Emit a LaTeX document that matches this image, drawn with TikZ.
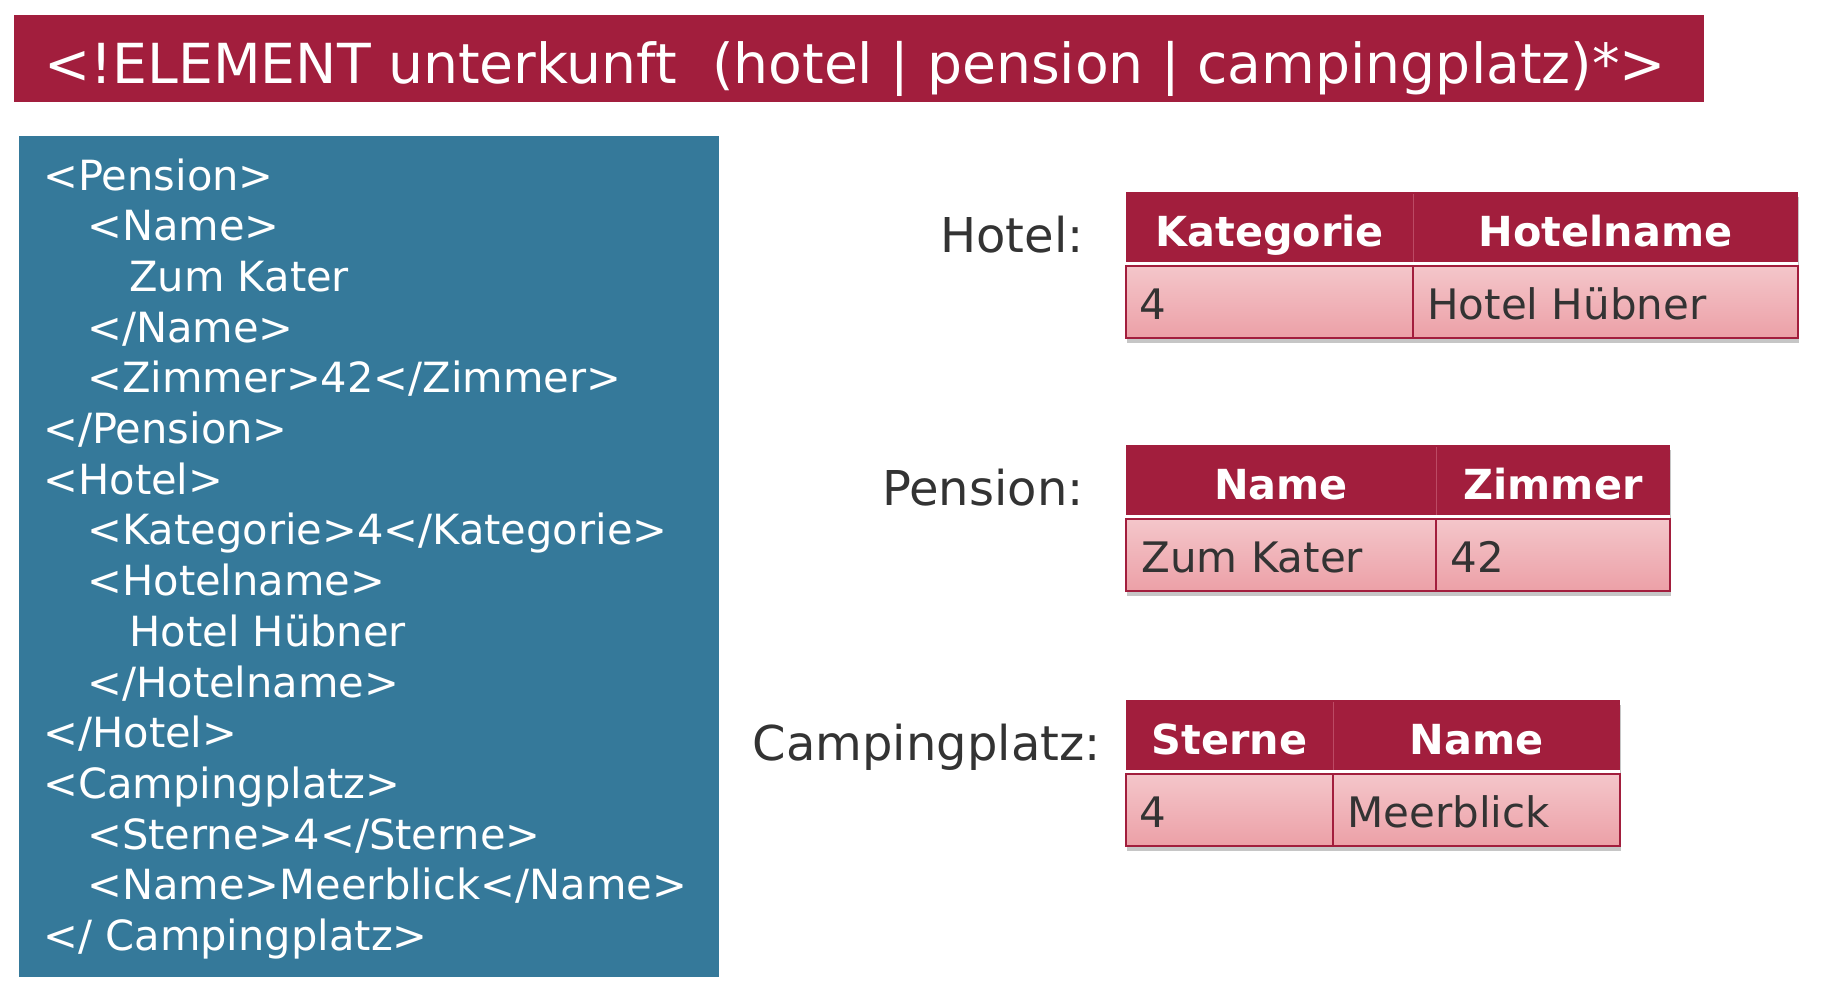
\documentclass[tikz,border=0pt]{standalone}
\usepackage{fontspec}
\setmainfont{DejaVu Sans}
\usetikzlibrary{shadows}
\definecolor{crim}{HTML}{A21E3D}
\definecolor{xmlblue}{HTML}{35799A}
\definecolor{pinkT}{HTML}{F4C6CA}
\definecolor{pinkB}{HTML}{ECA0A7}
\definecolor{hdrdiv}{HTML}{BC4A64}
\definecolor{txtgray}{HTML}{333333}
\tikzset{
  titletxt/.style={anchor=base west, inner sep=0, text=white, font=\fontsize{27.6}{32}\selectfont},
  codeline/.style={anchor=base west, inner sep=0, text=white, font=\fontsize{20.8}{25}\selectfont},
  lbl/.style={anchor=base east, inner sep=0, text=txtgray, font=\fontsize{24}{28}\selectfont},
  hdrtxt/.style={anchor=base, inner sep=0, text=white, font=\fontsize{20.7}{25}\selectfont\bfseries},
  celltxt/.style={anchor=base west, inner sep=0, text=txtgray, font=\fontsize{21}{25}\selectfont},
  tshadow/.style={fill=white, drop shadow={opacity=0.45, shadow xshift=0.6pt, shadow yshift=-2.4pt}},
  tborder/.style={draw=crim, line width=1pt},
  hdrfill/.style={fill=crim},
  bodyfill/.style={top color=pinkT, bottom color=pinkB},
}
\begin{document}
\begin{tikzpicture}[x=0.5pt,y=-0.5pt]
\useasboundingbox (0,0) rectangle (1822,998);
% title bar
\fill[crim] (14,15) rectangle (1704,102);
\node[titletxt] (title) at (44,83) {<!ELEMENT unterkunft\ \ (hotel | pension | campingplatz)*>};
% xml box
\fill[xmlblue] (19,136) rectangle (719,977);
\node[codeline] (c1)  at (43,190) {<Pension>};
\node[codeline] (c2)  at (87,240.7) {<Name>};
\node[codeline] (c3)  at (129,291.4) {Zum Kater};
\node[codeline] (c4)  at (87,342.1) {</Name>};
\node[codeline] (c5)  at (87,392.8) {<Zimmer>42</Zimmer>};
\node[codeline] (c6)  at (43,443.5) {</Pension>};
\node[codeline] (c7)  at (43,494.2) {<Hotel>};
\node[codeline] (c8)  at (87,544.9) {<Kategorie>4</Kategorie>};
\node[codeline] (c9)  at (87,595.6) {<Hotelname>};
\node[codeline] (c10) at (129,646.3) {Hotel Hübner};
\node[codeline] (c11) at (87,697) {</Hotelname>};
\node[codeline] (c12) at (43,747.7) {</Hotel>};
\node[codeline] (c13) at (43,798.4) {<Campingplatz>};
\node[codeline] (c14) at (87,849.1) {<Sterne>4</Sterne>};
\node[codeline] (c15) at (87,899.8) {<Name>Meerblick</Name>};
\node[codeline] (c16) at (43,950.5) {</ Campingplatz>};
% labels
\node[lbl] (lh) at (1084,252) {Hotel:};
\node[lbl] (lp) at (1084,505) {Pension:};
\node[lbl] (lc) at (1101,760) {Campingplatz:};
% Hotel table
\path[tshadow] (1126,192) rectangle (1798,338);
\fill[hdrfill] (1126,192) rectangle (1798,262);
\shade[bodyfill] (1126,266) rectangle (1798,338);
\draw[tborder] (1126,266) rectangle (1798,338);
\draw[tborder] (1413,266) -- (1413,338);
\draw[hdrdiv, line width=0.5pt] (1413,194) -- (1413,262);
\node[hdrtxt] (hk) at (1269.5,246) {Kategorie};
\node[hdrtxt] (hn) at (1605.5,246) {Hotelname};
\node[celltxt] (hv1) at (1139,319) {4};
\node[celltxt] (hv2) at (1427,319) {Hotel Hübner};
% Pension table
\path[tshadow] (1126,445) rectangle (1670,591);
\fill[hdrfill] (1126,445) rectangle (1670,515);
\shade[bodyfill] (1126,519) rectangle (1670,591);
\draw[tborder] (1126,519) rectangle (1670,591);
\draw[tborder] (1436,519) -- (1436,591);
\draw[hdrdiv, line width=0.5pt] (1436,447) -- (1436,515);
\node[hdrtxt] (pn) at (1281,499) {Name};
\node[hdrtxt] (pz) at (1553,499) {Zimmer};
\node[celltxt] (pv1) at (1141,572) {Zum Kater};
\node[celltxt] (pv2) at (1450,572) {42};
% Campingplatz table
\path[tshadow] (1126,700) rectangle (1620,846);
\fill[hdrfill] (1126,700) rectangle (1620,770);
\shade[bodyfill] (1126,774) rectangle (1620,846);
\draw[tborder] (1126,774) rectangle (1620,846);
\draw[tborder] (1333,774) -- (1333,846);
\draw[hdrdiv, line width=0.5pt] (1333,702) -- (1333,770);
\node[hdrtxt] (cs) at (1229.5,754) {Sterne};
\node[hdrtxt] (cn) at (1476.5,754) {Name};
\node[celltxt] (cv1) at (1139,827) {4};
\node[celltxt] (cv2) at (1347,827) {Meerblick};
\end{tikzpicture}
\end{document}
